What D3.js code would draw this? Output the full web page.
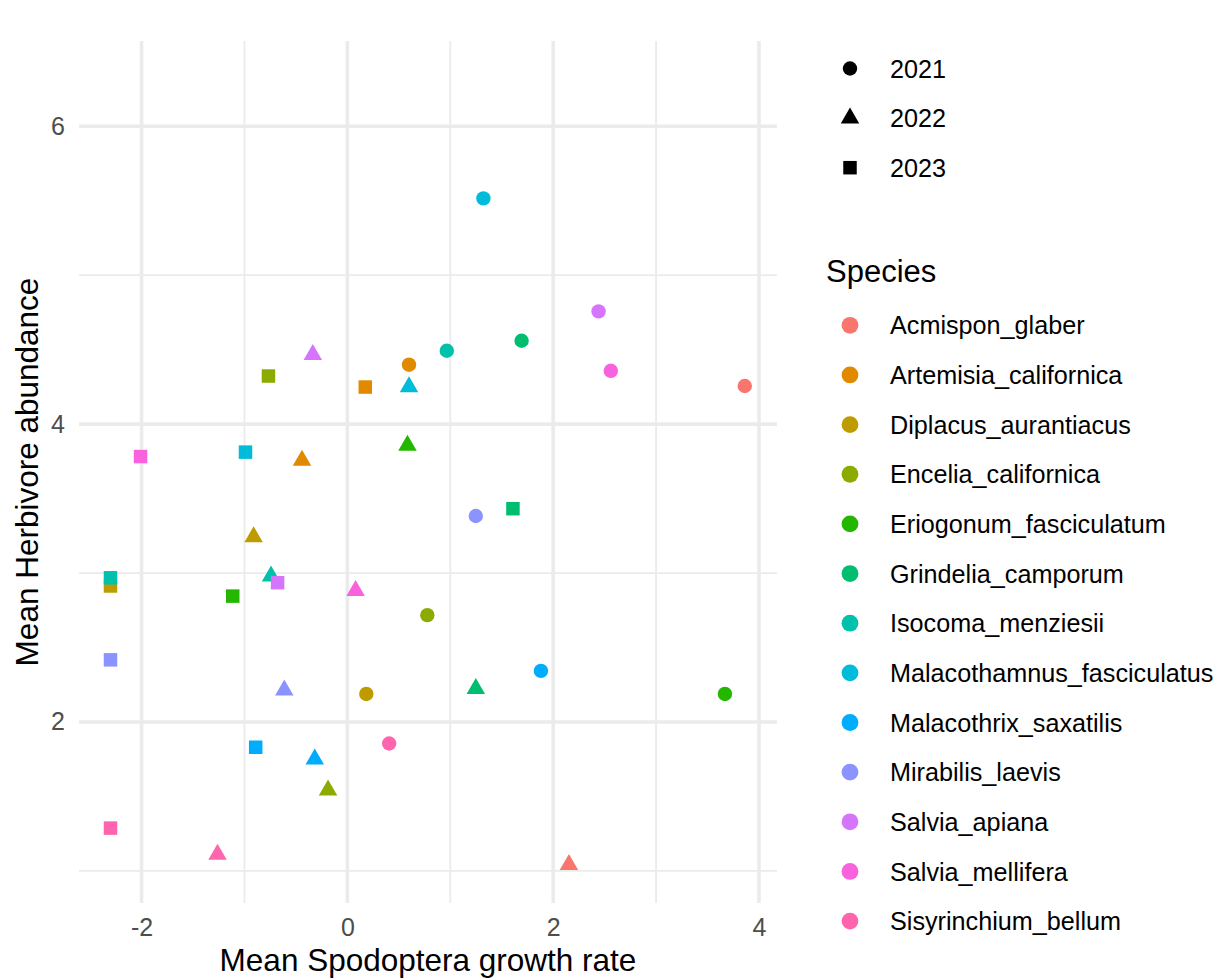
<!DOCTYPE html>
<html>
<head>
<meta charset="utf-8">
<script src="https://cdn.jsdelivr.net/npm/d3@7"></script>
<style>
  html, body { margin: 0; padding: 0; background: #ffffff; }
  svg { display: block; font-family: "Liberation Sans", Arial, Helvetica, sans-serif; }
</style>
</head>
<body>
<svg id="chart" width="1224" height="980"></svg>
<script>
// Plant species and their hue-palette colours
const species = [
  "Acmispon_glaber", "Artemisia_californica", "Diplacus_aurantiacus",
  "Encelia_californica", "Eriogonum_fasciculatum", "Grindelia_camporum",
  "Isocoma_menziesii", "Malacothamnus_fasciculatus", "Malacothrix_saxatilis",
  "Mirabilis_laevis", "Salvia_apiana", "Salvia_mellifera", "Sisyrinchium_bellum"
];
const speciesColors = [
  "#F8766D", "#E18A00", "#BE9C00", "#8CAB00", "#24B700", "#00BE70",
  "#00C1AB", "#00BBDA", "#00ACFC", "#8B93FF", "#D575FE", "#F962DD", "#FF65AC"
];

// Survey years and the marker used for each
const years = ["2021", "2022", "2023"];
const yearShapes = ["circle", "triangle", "square"];

// Mean Spodoptera growth rate per species (null = not measured that year)
const growth2021 = [3.862, 0.599, 0.184, 0.777, 3.669, 1.693, 0.966, 1.322, 1.881, 1.248, 2.441, 2.560, 0.406];
const growth2022 = [2.153, -0.441, -0.911, -0.188, 0.584, 1.248, -0.742, 0.599, -0.317, -0.613, -0.336, 0.080, -1.262];
const growth2023 = [null, 0.174, -2.302, -0.767, -1.114, 1.609, -2.302, -0.990, -0.891, -2.302, -0.678, -2.010, -2.302];

// Mean herbivore abundance per species
const abundance2021 = [4.256, 4.399, 2.188, 2.717, 2.188, 4.560, 4.493, 5.516, 2.343, 3.383, 4.757, 4.358, 1.855];
const abundance2022 = [1.042, 3.757, 3.242, 1.541, 3.857, 2.223, 2.979, 4.250, 1.750, 2.213, 4.466, 2.882, 1.110];
const abundance2023 = [null, 4.249, 2.913, 4.323, 2.845, 3.432, 2.968, 3.812, 1.830, 2.417, 2.935, 3.782, 1.287];

// Axis ticks
const xMajorTicks = [-2, 0, 2, 4];
const xMinorTicks = [-1, 1, 3];
const yMajorTicks = [2, 4, 6];
const yMinorTicks = [1, 3, 5];

const xTitle = "Mean Spodoptera growth rate";
const yTitle = "Mean Herbivore abundance";
const speciesTitle = "Species";

// Build long-format rows: drawn year by year, species within year
const growthByYear = [growth2021, growth2022, growth2023];
const abundanceByYear = [abundance2021, abundance2022, abundance2023];
const rows = [];
years.forEach((yr, yi) => {
  species.forEach((sp, si) => {
    const gx = growthByYear[yi][si], ay = abundanceByYear[yi][si];
    if (gx !== null && ay !== null) {
      rows.push({ species: sp, year: yr, growth: gx, abundance: ay });
    }
  });
});

const svg = d3.select("#chart");

// Panel geometry
const panel = { left: 79, right: 777, top: 41, bottom: 903 };

const x = d3.scaleLinear().domain([-2.608, 4.175]).range([panel.left, panel.right]);
const y = d3.scaleLinear().domain([0.784, 6.573]).range([panel.bottom, panel.top]);
const color = d3.scaleOrdinal().domain(species).range(speciesColors);

const symbolTypes = { circle: d3.symbolCircle, triangle: d3.symbolTriangle, square: d3.symbolSquare };
const symbolSizes = { circle: Math.PI * 7.2 * 7.2, triangle: Math.sqrt(3) / 4 * 18.5 * 18.5, square: 13.5 * 13.5 };
const shapeOf = d3.scaleOrdinal().domain(years).range(yearShapes);
const symbolPath = (shape, scale = 1) =>
  d3.symbol().type(symbolTypes[shape]).size(symbolSizes[shape] * scale * scale)();

// Grid lines
const grid = svg.append("g");
grid.selectAll("line.xminor").data(xMinorTicks).join("line")
  .attr("x1", d => x(d)).attr("x2", d => x(d))
  .attr("y1", panel.top).attr("y2", panel.bottom)
  .attr("stroke", "#EBEBEB").attr("stroke-width", 1.8);
grid.selectAll("line.yminor").data(yMinorTicks).join("line")
  .attr("x1", panel.left).attr("x2", panel.right)
  .attr("y1", d => y(d)).attr("y2", d => y(d))
  .attr("stroke", "#EBEBEB").attr("stroke-width", 1.8);
grid.selectAll("line.xmajor").data(xMajorTicks).join("line")
  .attr("x1", d => x(d)).attr("x2", d => x(d))
  .attr("y1", panel.top).attr("y2", panel.bottom)
  .attr("stroke", "#EBEBEB").attr("stroke-width", 3.6);
grid.selectAll("line.ymajor").data(yMajorTicks).join("line")
  .attr("x1", panel.left).attr("x2", panel.right)
  .attr("y1", d => y(d)).attr("y2", d => y(d))
  .attr("stroke", "#EBEBEB").attr("stroke-width", 3.6);

// Axes (labels only, no domain line or tick marks)
const xAxis = svg.append("g")
  .attr("transform", `translate(0,${panel.bottom})`)
  .call(d3.axisBottom(x).tickValues(xMajorTicks).tickSize(0).tickPadding(15).tickFormat(d3.format("d")));
const yAxis = svg.append("g")
  .attr("transform", `translate(${panel.left},0)`)
  .call(d3.axisLeft(y).tickValues(yMajorTicks).tickSize(0).tickPadding(14).tickFormat(d3.format("d")));
[xAxis, yAxis].forEach(ax => {
  ax.select(".domain").remove();
  ax.selectAll("text")
    .attr("fill", "#4D4D4D")
    .attr("font-size", "25px")
    .attr("font-family", "Liberation Sans, Arial, sans-serif");
});
xAxis.selectAll("text").text(d => d < 0 ? "-" + Math.abs(d) : d);

// Axis titles
svg.append("text")
  .attr("x", (panel.left + panel.right) / 2).attr("y", 971)
  .attr("text-anchor", "middle").attr("font-size", "31.5px").attr("fill", "#000")
  .text(xTitle);
svg.append("text")
  .attr("transform", `translate(38,${(panel.top + panel.bottom) / 2}) rotate(-90)`)
  .attr("text-anchor", "middle").attr("font-size", "31.5px").attr("fill", "#000")
  .text(yTitle);

// Points
svg.append("g").selectAll("path").data(rows).join("path")
  .attr("transform", d => `translate(${x(d.growth)},${y(d.abundance)})`)
  .attr("d", d => symbolPath(shapeOf(d.year)))
  .attr("fill", d => color(d.species));

// Legend: year shapes
const legYear = svg.append("g");
const yearRow = d3.scaleLinear().domain([0, 1]).range([68.5, 118.1]);
legYear.selectAll("path").data(years).join("path")
  .attr("transform", (d, i) => `translate(850,${yearRow(i)})`)
  .attr("d", d => symbolPath(shapeOf(d)))
  .attr("fill", "#000");
legYear.selectAll("text").data(years).join("text")
  .attr("x", 890).attr("y", (d, i) => yearRow(i))
  .attr("dy", "0.36em").attr("font-size", "25.2px").attr("fill", "#000")
  .text(d => d);

// Legend: species colours
const legSp = svg.append("g");
legSp.append("text")
  .attr("x", 826).attr("y", 282)
  .attr("font-size", "31px").attr("fill", "#000")
  .text(speciesTitle);
const spRow = d3.scaleLinear().domain([0, 1]).range([325.3, 374.95]);
legSp.selectAll("circle").data(species).join("circle")
  .attr("cx", 850).attr("cy", (d, i) => spRow(i))
  .attr("r", 8.4)
  .attr("fill", d => color(d));
legSp.selectAll("text.lab").data(species).join("text")
  .attr("class", "lab")
  .attr("x", 890).attr("y", (d, i) => spRow(i))
  .attr("dy", "0.36em").attr("font-size", "25.2px").attr("fill", "#000")
  .text(d => d);
</script>
</body>
</html>
